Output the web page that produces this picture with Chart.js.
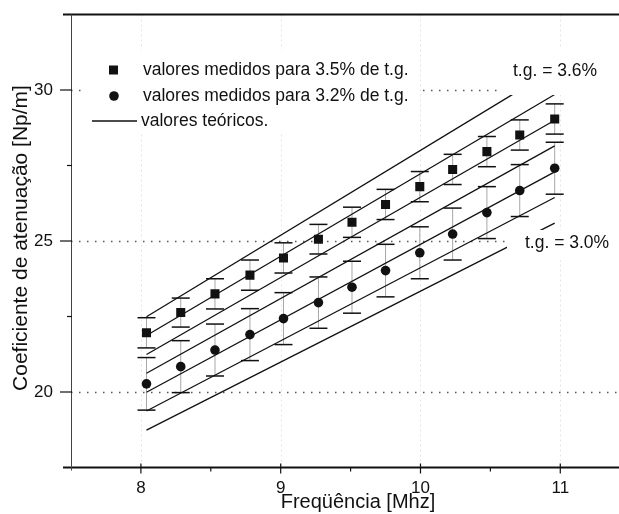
<!DOCTYPE html>
<html>
<head>
<meta charset="utf-8">
<script src="https://cdn.jsdelivr.net/npm/chart.js@4/dist/chart.umd.min.js"></script>
<style>
  html, body { margin: 0; padding: 0; background: #fff; overflow: hidden; }
  canvas { display: block; }
</style>
</head>
<body>
<canvas id="c" width="619" height="514"></canvas>
<script>
// Measured attenuation coefficient [Np/m] against frequency [MHz]
const freqs = [8.04, 8.285, 8.53, 8.78, 9.02, 9.27, 9.51, 9.75, 9.995, 10.23, 10.475, 10.71, 10.96];
const att35 = [21.96, 22.63, 23.25, 23.87, 24.44, 25.06, 25.62, 26.21, 26.80, 27.37, 27.96, 28.51, 29.04];
const err35 = [0.50, 0.48, 0.50, 0.50, 0.50, 0.49, 0.50, 0.50, 0.50, 0.50, 0.50, 0.50, 0.50];
const att32 = [20.27, 20.84, 21.39, 21.90, 22.43, 22.96, 23.47, 24.02, 24.61, 25.23, 25.94, 26.67, 27.41];
const err32 = [0.87, 0.86, 0.86, 0.86, 0.86, 0.85, 0.86, 0.87, 0.86, 0.86, 0.86, 0.86, 0.86];

// Theoretical straight lines, one per loss tangent (t.g. in %)
const tgLevels = [3.6, 3.5, 3.4, 3.3, 3.2, 3.1, 3.0];
const theoFreq = [8.04, 10.96];
const theoStart = [22.49, 21.87, 21.24, 20.62, 19.99, 19.37, 18.74];
const theoEnd = [30.70, 29.85, 29.00, 28.15, 27.29, 26.44, 25.59];

// Axis ticks and texts
const xTicks = [8, 9, 10, 11];
const xMinorTicks = [8.5, 9.5, 10.5];
const yTicks = [20, 25, 30];
const yMinorTicks = [22.5, 27.5];
const xTitle = 'Freqüência [Mhz]';
const yTitle = 'Coeficiente de atenuação [Np/m]';
const legendLabels = ['valores medidos para 3.5% de t.g.', 'valores medidos para 3.2% de t.g.', 'valores teóricos.'];
const curveLabels = ['t.g. = 3.6%', 't.g. = 3.0%'];

const FONT = '"Liberation Sans", Arial, Helvetica, sans-serif';
const INK = '#111';

const datasets = [
  {
    label: legendLabels[0],
    data: freqs.map((f, i) => ({ x: f, y: att35[i] })),
    pointStyle: 'rect', pointRadius: 6.4, pointHoverRadius: 6.4,
    backgroundColor: INK, borderColor: INK, borderWidth: 0, showLine: false
  },
  {
    label: legendLabels[1],
    data: freqs.map((f, i) => ({ x: f, y: att32[i] })),
    pointStyle: 'circle', pointRadius: 4.8, pointHoverRadius: 4.8,
    backgroundColor: INK, borderColor: INK, borderWidth: 0, showLine: false
  }
];
tgLevels.forEach((tg, i) => {
  datasets.push({
    label: legendLabels[2] + ' ' + tg,
    data: [{ x: theoFreq[0], y: theoStart[i] }, { x: theoFreq[1], y: theoEnd[i] }],
    showLine: true, pointRadius: 0, borderColor: INK, borderWidth: 1.3, fill: false
  });
});

function seg(ctx, x1, y1, x2, y2) {
  ctx.beginPath(); ctx.moveTo(x1, y1); ctx.lineTo(x2, y2); ctx.stroke();
}

function noPadding(s) {
  s.paddingTop = 0; s.paddingBottom = 0; s.paddingLeft = 0; s.paddingRight = 0;
}

const decor = {
  id: 'decor',
  beforeDatasetsDraw(chart) {
    const { ctx, chartArea: a, scales: { x, y } } = chart;
    ctx.save();
    // faint vertical grid
    ctx.strokeStyle = 'rgba(0,0,0,0.10)';
    ctx.lineWidth = 1;
    ctx.setLineDash([2, 3]);
    xTicks.forEach(v => {
      const px = Math.round(x.getPixelForValue(v)) + 0.5;
      seg(ctx, px, a.top, px, a.bottom);
    });
    // dotted horizontal grid
    ctx.strokeStyle = '#555';
    ctx.lineWidth = 1.3;
    ctx.setLineDash([1.5, 6.5]);
    yTicks.forEach(v => {
      const py = Math.round(y.getPixelForValue(v)) + 0.5;
      seg(ctx, a.left, py, a.right, py);
    });
    ctx.setLineDash([]);
    // error bars
    const drawErr = (vals, errs) => {
      vals.forEach((v, i) => {
        const px = x.getPixelForValue(freqs[i]);
        const top = y.getPixelForValue(v + errs[i]);
        const bot = y.getPixelForValue(v - errs[i]);
        ctx.strokeStyle = 'rgba(0,0,0,0.35)';
        ctx.lineWidth = 1;
        seg(ctx, px, top, px, bot);
        ctx.strokeStyle = INK;
        ctx.lineWidth = 1.5;
        seg(ctx, px - 9, top, px + 9, top);
        seg(ctx, px - 9, bot, px + 9, bot);
      });
    };
    drawErr(att35, err35);
    drawErr(att32, err32);
    ctx.restore();
  },
  afterDatasetsDraw(chart) {
    const { ctx, chartArea: a, scales: { x, y } } = chart;
    ctx.save();
    // white backgrounds behind text boxes
    ctx.fillStyle = '#fff';
    ctx.fillRect(85, 50, 335, 82);
    ctx.fillRect(500, 48, 119, 47);
    ctx.fillRect(507, 230, 112, 30);

    // curve labels
    ctx.fillStyle = INK;
    ctx.font = '17.5px ' + FONT;
    ctx.textAlign = 'left';
    ctx.textBaseline = 'middle';
    ctx.fillText(curveLabels[0], 513, 71);
    ctx.fillText(curveLabels[1], 525, 243);

    // legend
    ctx.fillText(legendLabels[0], 143, 70);
    ctx.fillText(legendLabels[1], 143, 96);
    ctx.fillText(legendLabels[2], 141, 121);
    ctx.fillRect(113.5 - 4.5, 70 - 4.5, 9, 9);
    ctx.beginPath(); ctx.arc(114, 96, 4.8, 0, Math.PI * 2); ctx.fill();
    ctx.strokeStyle = INK; ctx.lineWidth = 1.3;
    seg(ctx, 92, 121, 137, 121);

    // axes frame
    ctx.strokeStyle = INK;
    ctx.lineWidth = 2;
    seg(ctx, 63, a.top, a.right, a.top);
    seg(ctx, 63, a.bottom, a.right, a.bottom);
    ctx.strokeStyle = '#444';
    ctx.lineWidth = 1;
    seg(ctx, a.left + 0.5, a.top, a.left + 0.5, a.bottom + 3);

    // tick marks
    ctx.strokeStyle = INK;
    ctx.lineWidth = 1.2;
    yTicks.forEach(v => { const py = y.getPixelForValue(v); seg(ctx, a.left - 11, py, a.left + 1, py); });
    yMinorTicks.forEach(v => { const py = y.getPixelForValue(v); seg(ctx, a.left - 4, py, a.left + 1, py); });
    xTicks.forEach(v => { const px = x.getPixelForValue(v); seg(ctx, px, a.bottom - 4, px, a.bottom + 6); });
    xMinorTicks.forEach(v => { const px = x.getPixelForValue(v); seg(ctx, px, a.bottom, px, a.bottom + 4); });

    // axis titles
    ctx.fillStyle = INK;
    ctx.font = '20px ' + FONT;
    ctx.textAlign = 'center';
    ctx.textBaseline = 'alphabetic';
    ctx.fillText(xTitle, 358, 508);
    ctx.translate(21, 238);
    ctx.rotate(-Math.PI / 2);
    ctx.font = '21px ' + FONT;
    ctx.textBaseline = 'middle';
    ctx.fillText(yTitle, 0, 0);
    ctx.restore();
  }
};

new Chart(document.getElementById('c'), {
  type: 'scatter',
  data: { datasets },
  options: {
    responsive: false,
    animation: false,
    devicePixelRatio: 1,
    layout: { autoPadding: false, padding: { top: 14.5, right: 0, bottom: 0, left: 0 } },
    plugins: { legend: { display: false }, tooltip: { enabled: false } },
    scales: {
      x: {
        type: 'linear', min: 7.5, max: 11.42,
        afterBuildTicks: s => { s.ticks = xTicks.map(v => ({ value: v })); },
        afterFit: s => { s.height = 46.5; noPadding(s); },
        grid: { display: false, drawTicks: false },
        border: { display: false },
        ticks: { color: INK, padding: 11, font: { family: FONT, size: 17 }, maxRotation: 0 }
      },
      y: {
        type: 'linear', min: 17.5, max: 32.5,
        afterBuildTicks: s => { s.ticks = yTicks.map(v => ({ value: v })); },
        afterFit: s => { s.width = 71; noPadding(s); },
        grid: { display: false, drawTicks: false },
        border: { display: false },
        ticks: { color: INK, padding: 18, font: { family: FONT, size: 17 } }
      }
    }
  },
  plugins: [decor]
});
</script>
</body>
</html>
